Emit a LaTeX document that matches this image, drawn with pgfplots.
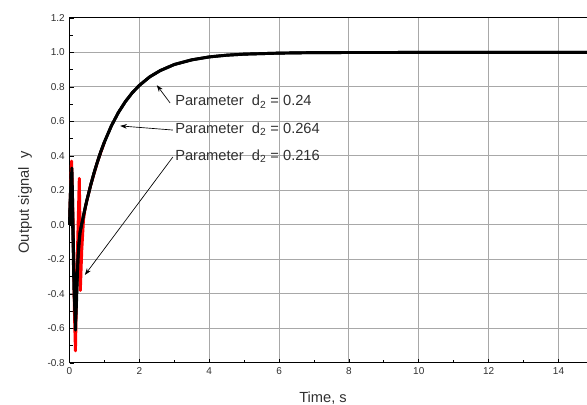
\documentclass[border=0pt]{standalone}
\usepackage{fontspec}
\setmainfont{Liberation Sans}
\usepackage{pgfplots}
\pgfplotsset{compat=1.18}
\usetikzlibrary{arrows.meta}
\definecolor{gridgray}{HTML}{A8A8A8}
\definecolor{txt}{HTML}{303030}
\begin{document}
\begin{tikzpicture}
\begin{axis}[
  scale only axis,
  width=419.2pt, height=258.75pt,
  xmin=0, xmax=16, ymin=-0.8, ymax=1.2,
  xtick={0,2,...,14}, ytick={-0.8,-0.6,...,1.21},
  minor xtick={1,3,...,15}, minor y tick num=1,
  grid=major,
  major grid style={gridgray, line width=0.8pt},
  tick align=inside, xtick pos=bottom, ytick pos=left,
  major tick length=3pt, minor tick length=2.5pt,
  every tick/.style={black, line width=0.6pt},
  axis line style={black, line width=0.8pt},
  ticklabel style={font=\fontsize{7.5}{9}\selectfont, text=txt},
  /pgf/number format/assume math mode=true,
  yticklabel style={/pgf/number format/fixed, /pgf/number format/fixed zerofill, /pgf/number format/precision=1},
  xticklabel style={/pgf/number format/fixed},
  xlabel={Time{,} s}, ylabel={Output signal\ \ y},
  label style={font=\fontsize{11}{13}\selectfont, text=txt},
  xlabel style={at={(axis description cs:0.4536,0)}, anchor=north, inner sep=0pt, yshift=-21.5pt},
  ylabel style={at={(axis description cs:-0.0796,0.465)}, anchor=center, rotate=0},
  clip=false,
]
% red: d2 = 0.216
\addplot[red, line width=2.2pt, line join=round] coordinates {
(0,0) (0.03,0.2) (0.06,0.37) (0.1,0.05) (0.14,-0.5) (0.17,-0.73) (0.2,-0.4) (0.24,-0.05) (0.28,0.27) (0.3,0.0) (0.31,-0.38) (0.35,-0.15) (0.4,0.03) (0.45,0.1) (0.5,0.145) (0.6,0.226) (0.8,0.366) (1.0,0.48)
};
% black: d2 = 0.264
\addplot[black, line width=2.2pt, line join=round] coordinates {
(0,0) (0.02,0.15) (0.05,0.3) (0.09,0.0) (0.13,-0.4) (0.17,-0.55) (0.21,-0.35) (0.26,-0.12) (0.3,-0.045) (0.4,0.055) (0.5,0.145) (0.6,0.226) (0.7,0.3) (0.8,0.366) (0.9,0.427) (1.0,0.481) (1.2,0.575) (1.4,0.652) (1.6,0.715) (1.8,0.767) (2.0,0.809) (2.3,0.859) (2.6,0.895) (3.0,0.930) (3.5,0.957) (4.0,0.974) (4.5,0.984) (5.0,0.990) (6.0,0.996) (7.0,0.999) (8.0,0.9995) (10,0.9999) (12,1.0) (16,1.0)
};
% black: d2 = 0.24
\addplot[black, line width=2.2pt, line join=round] coordinates {
(0,0) (0.03,0.2) (0.07,0.33) (0.11,-0.1) (0.15,-0.45) (0.17,-0.61) (0.2,-0.45) (0.24,-0.2) (0.3,-0.045) (0.4,0.055) (0.5,0.145) (0.6,0.226) (0.7,0.3) (0.8,0.366) (0.9,0.427) (1.0,0.481) (1.2,0.575) (1.4,0.652) (1.6,0.715) (1.8,0.767) (2.0,0.809) (2.3,0.859) (2.6,0.895) (3.0,0.930) (3.5,0.957) (4.0,0.974) (4.5,0.984) (5.0,0.990) (6.0,0.996) (7.0,0.999) (8.0,0.9995) (10,0.9999) (12,1.0) (16,1.0)
};
% annotations
\draw[black, line width=0.5pt, -{Stealth[length=5pt,width=3.5pt]}] (axis cs:2.88,0.707) -- (axis cs:2.5,0.81);
\draw[black, line width=0.5pt, -{Stealth[length=5pt,width=3.5pt]}] (axis cs:2.96,0.55) -- (axis cs:1.45,0.574);
\draw[black, line width=0.5pt, -{Stealth[length=5pt,width=3.5pt]}] (axis cs:2.96,0.394) -- (axis cs:0.44,-0.29);
\node[anchor=base west, inner sep=0pt, text=txt, font=\fontsize{11}{13}\selectfont] at (axis cs:3.02,0.69) {Parameter\ \ d\textsubscript{2} = 0.24};
\node[anchor=base west, inner sep=0pt, text=txt, font=\fontsize{11}{13}\selectfont] at (axis cs:3.02,0.532) {Parameter\ \ d\textsubscript{2} = 0.264};
\node[anchor=base west, inner sep=0pt, text=txt, font=\fontsize{11}{13}\selectfont] at (axis cs:3.02,0.373) {Parameter\ \ d\textsubscript{2} = 0.216};
\coordinate (BL) at (axis cs:-1.99,-1.0435);
\coordinate (TR) at (axis cs:14.815,1.304);
\end{axis}
\pgfresetboundingbox
\useasboundingbox (BL) rectangle (TR);
\end{tikzpicture}
\end{document}
